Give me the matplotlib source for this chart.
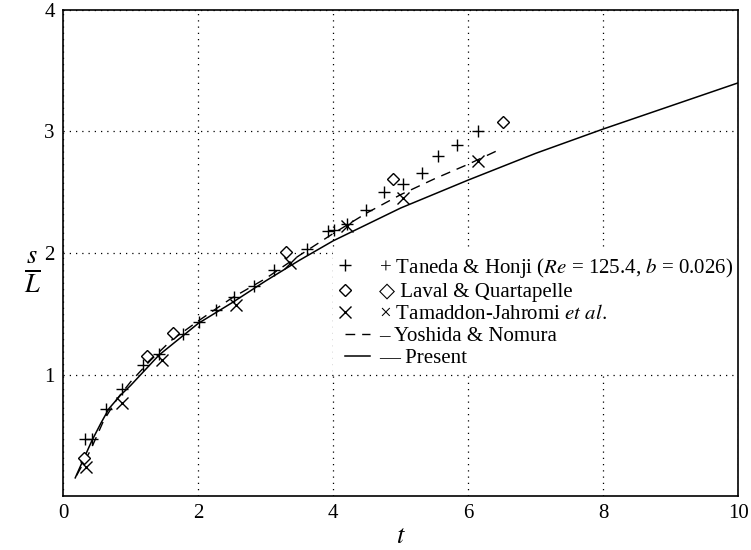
import matplotlib
matplotlib.use("Agg")
import matplotlib.pyplot as plt
from matplotlib.lines import Line2D
from matplotlib.legend_handler import HandlerLine2D

plt.rcParams['font.family'] = ['Liberation Serif', 'DejaVu Serif', 'DejaVu Sans']
plt.rcParams['mathtext.fontset'] = 'stix'

# Taneda & Honji (+)
taneda_t = [0.33, 0.43, 0.63, 0.88, 1.18, 1.42, 1.77, 2.01, 2.26, 2.53, 2.83, 3.13,
            3.62, 3.92, 4.02, 4.21, 4.48, 4.76, 5.03, 5.31, 5.56, 5.84, 6.14]
taneda_s = [0.47, 0.47, 0.72, 0.88, 1.08, 1.17, 1.33, 1.43, 1.53, 1.64, 1.73, 1.86,
            2.03, 2.18, 2.19, 2.24, 2.35, 2.50, 2.57, 2.66, 2.80, 2.89, 3.00]

# Laval & Quartapelle (diamond)
laval_t = [0.31, 1.25, 1.63, 3.30, 4.88, 6.51]
laval_s = [0.31, 1.15, 1.34, 2.01, 2.61, 3.08]

# Tamaddon-Jahromi et al. (x)
tamaddon_t = [0.34, 0.88, 1.47, 2.56, 3.36, 4.21, 5.03, 6.15]
tamaddon_s = [0.24, 0.77, 1.12, 1.57, 1.92, 2.22, 2.45, 2.76]

# Yoshida & Nomura (dashed)
yoshida_t = [0.2, 0.4, 0.6, 0.8, 1.0, 1.3, 1.6, 2.0, 2.5, 3.0, 3.5, 4.0, 4.5, 5.0, 5.5, 6.0, 6.5]
yoshida_s = [0.17, 0.37, 0.62, 0.80, 0.94, 1.12, 1.28, 1.44, 1.63, 1.79, 1.98, 2.16, 2.33,
             2.48, 2.61, 2.73, 2.86]

# Present (solid)
present_t = [0.18, 0.3, 0.43, 0.56, 0.68, 0.85, 1.0, 1.42, 2.0, 2.5, 3.0, 3.5, 4.0,
             5.0, 6.0, 7.0, 8.0, 9.0, 10.0]
present_s = [0.15, 0.30, 0.46, 0.60, 0.72, 0.83, 0.91, 1.16, 1.42, 1.59, 1.77, 1.94, 2.10,
             2.37, 2.60, 2.82, 3.02, 3.21, 3.40]


class LeftMarker(HandlerLine2D):
    # draw the legend marker only once, at the left end of the handle
    def create_artists(self, *args, **kwargs):
        arts = super().create_artists(*args, **kwargs)
        for a in arts:
            if isinstance(a, Line2D):
                a.set_markevery([0])
        return arts


fig = plt.figure(figsize=(7.51, 5.50), dpi=100)
ax = fig.add_axes([0.084, 0.098, 0.899, 0.884])

ax.plot(present_t, present_s, color='k', lw=1.1)
ax.plot(yoshida_t, yoshida_s, color='k', lw=1.0, dashes=(7, 5))
ax.plot(taneda_t, taneda_s, ls='none', marker='+', ms=9, mew=1.0, color='k')
ax.plot(laval_t, laval_s, ls='none', marker='D', ms=6, mew=1.0, mfc='white', mec='k')
ax.plot(tamaddon_t, tamaddon_s, ls='none', marker='x', ms=8, mew=1.0, color='k')

ax.set_xlim(0, 10)
ax.set_ylim(0, 4)
ax.set_xticks([0, 2, 4, 6, 8, 10])
ax.set_yticks([1, 2, 3, 4])
ax.tick_params(length=0, labelsize=15, pad=6)
ax.grid(True, color='k', linestyle=(0, (1, 4)), linewidth=0.9)
for sp in ax.spines.values():
    sp.set_linewidth(1.2)

ax.set_xlabel('$t$', fontsize=19, labelpad=2)
ax.set_ylabel(r'$\frac{s}{L}$', fontsize=27, rotation=0, va='center')
ax.yaxis.set_label_coords(-0.045, 0.46)

h_taneda = Line2D([], [], ls='none', marker='+', ms=9, mew=1.0, color='k')
h_laval = Line2D([], [], ls='none', marker='D', ms=6, mew=1.0, mfc='white', mec='k')
h_tamaddon = Line2D([], [], ls='none', marker='x', ms=8, mew=1.0, color='k')
h_yoshida = Line2D([], [], color='k', lw=1.0, dashes=(7, 5))
h_present = Line2D([], [], color='k', lw=1.1)
handles = [h_taneda, h_laval, h_tamaddon, h_yoshida, h_present]
labels = [
    '+ Taneda & Honji ($Re$ = 125.4, $b$ = 0.026)',
    '\u25c7 Laval & Quartapelle',
    '\u00d7 Tamaddon-Jahromi $et\\ al.$',
    '\u2013 Yoshida & Nomura',
    '\u2014 Present',
]
leg = ax.legend(handles, labels, loc='upper left', bbox_to_anchor=(0.4, 0.505),
                fontsize=15, frameon=True, numpoints=2, handlelength=1.8,
                handletextpad=0.15, labelspacing=0.12, borderpad=0.25,
                borderaxespad=0.0, fancybox=False,
                handler_map={h_taneda: LeftMarker(), h_laval: LeftMarker(),
                             h_tamaddon: LeftMarker()})
leg.get_frame().set_edgecolor('none')
leg.get_frame().set_facecolor('white')
leg.get_frame().set_alpha(1.0)
leg.set_zorder(2.4)  # keep the right spine drawn over the legend box

fig.savefig('out.png', dpi=100)
